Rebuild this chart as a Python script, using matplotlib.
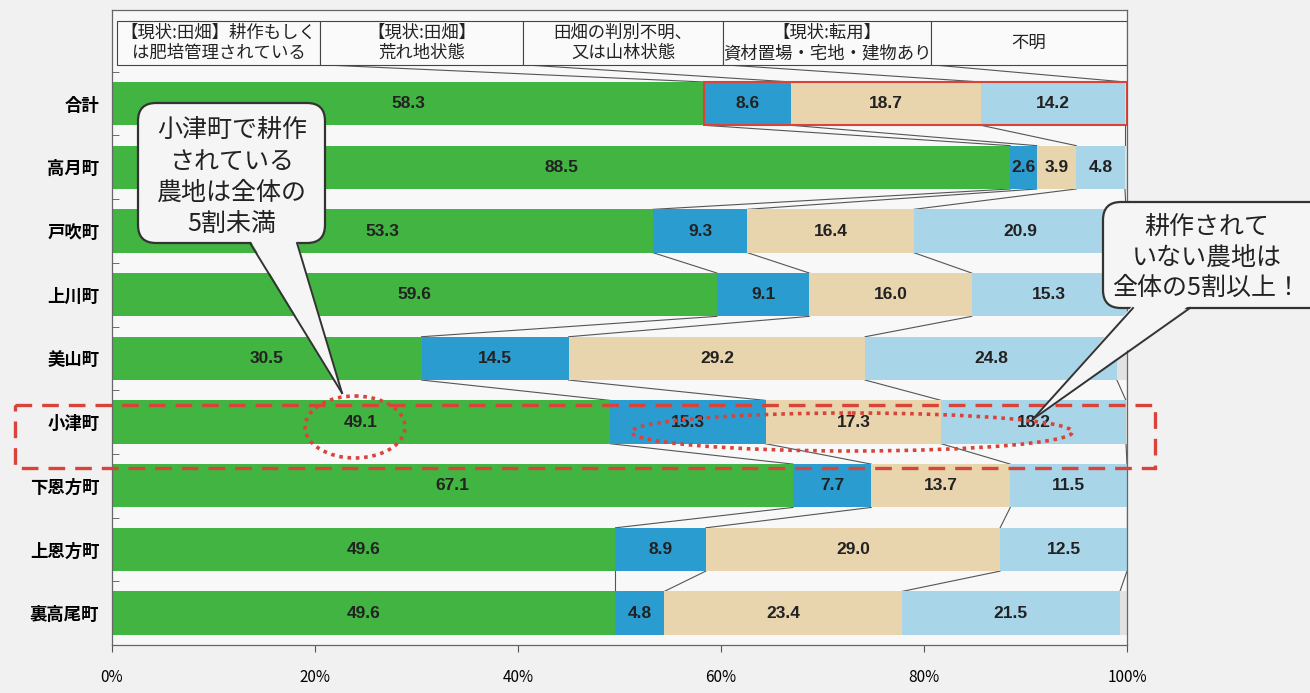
import matplotlib.pyplot as plt
from matplotlib.patches import Rectangle, FancyBboxPatch, Polygon, Ellipse
import numpy as np

plt.rcParams['font.family'] = ['Noto Sans CJK JP', 'DejaVu Sans']

# data (percent)
areas = ['合計', '高月町', '戸吹町', '上川町', '美山町', '小津町', '下恩方町', '上恩方町', '裏高尾町']
cultivated = [58.3, 88.5, 53.3, 59.6, 30.5, 49.1, 67.1, 49.6, 49.6]
wasteland = [8.6, 2.6, 9.3, 9.1, 14.5, 15.3, 7.7, 8.9, 4.8]
forest = [18.7, 3.9, 16.4, 16.0, 29.2, 17.3, 13.7, 29.0, 23.4]
converted = [14.2, 4.8, 20.9, 15.3, 24.8, 18.2, 11.5, 12.5, 21.5]
unknown = [0.2, 0.2, 0.1, 0.0, 1.0, 0.1, 0.0, 0.0, 0.7]

headers = ['【現状:田畑】耕作もしく\nは肥培管理されている',
           '【現状:田畑】\n荒れ地状態',
           '田畑の判別不明、\n又は山林状態',
           '【現状:転用】\n資材置場・宅地・建物あり',
           '不明']
header_edges = [0.5, 20.5, 40.5, 60.2, 80.7, 100]
xticks = [0, 20, 40, 60, 80, 100]
xticklabels = ['0%', '20%', '40%', '60%', '80%', '100%']

series = [cultivated, wasteland, forest, converted, unknown]
colors = ['#41b441', '#2a9cd0', '#e8d5ae', '#a9d5e8', '#e2e2e2']
RED = '#d8443a'

fig = plt.figure(figsize=(13.1, 6.93), dpi=100, facecolor='#f1f1f1')
ax = fig.add_axes([112 / 1310, 1 - 645 / 693, 1015 / 1310, 635 / 693])
ax.set_facecolor('#f8f8f8')

y = np.arange(len(areas))
h = 0.68
left = np.zeros(len(areas))
bounds = []
for k, (vals, c) in enumerate(zip(series, colors)):
    vals = np.array(vals)
    ax.barh(y, vals, left=left, height=h, color=c, zorder=2)
    if k < 4:
        for i, v in enumerate(vals):
            ax.text(left[i] + v / 2, y[i], '%.1f' % v, ha='center', va='center',
                    fontsize=12.5, fontweight='bold', color='#222222',
                    family='Liberation Sans', zorder=3)
    left = left + vals
    bounds.append(left.copy())

# series lines between bars
for b in bounds:
    for i in range(len(areas) - 1):
        ax.plot([b[i], b[i + 1]], [y[i] + h / 2, y[i + 1] - h / 2],
                color='#555555', lw=0.8, zorder=1)

# header table inside the plot area
h_top, h_bot = -1.30, -0.61
for k, txt in enumerate(headers):
    x0, x1 = header_edges[k], header_edges[k + 1]
    ax.add_patch(Rectangle((x0, h_top), x1 - x0, h_bot - h_top, fc='#fafafa',
                           ec='#444444', lw=0.8, zorder=2))
    ax.text((x0 + x1) / 2, (h_top + h_bot) / 2, txt, ha='center', va='center',
            fontsize=12.5, linespacing=1.2, color='#222222', zorder=3)
for k, b in enumerate(bounds):
    ax.plot([header_edges[k + 1], b[0]], [h_bot, y[0] - h / 2],
            color='#555555', lw=0.8, zorder=1)

# red frame around the non-cultivated part of 合計
ax.add_patch(Rectangle((cultivated[0], y[0] - h / 2), bounds[-1][0] - cultivated[0], h,
                       fill=False, ec=RED, lw=1.5, zorder=4))

ax.set_xlim(0, 100)
ax.set_ylim(8.5, -1.47)
ax.set_xticks(xticks, xticklabels)
ax.set_yticks(y, areas)
ax.set_yticks(np.arange(-0.5, 8, 1), minor=True)
ax.tick_params(axis='y', which='major', length=0, pad=9, labelsize=12.5)
ax.tick_params(axis='y', which='minor', direction='in', length=5, color='#555555')
ax.tick_params(axis='x', length=5, pad=12, labelsize=11, color='#555555')
for lab in ax.get_yticklabels():
    lab.set_fontweight('bold')
for sp in ax.spines.values():
    sp.set_color('#666666')
    sp.set_linewidth(0.9)

# overlay in pixel coordinates for the callouts
ov = fig.add_axes([0, 0, 1, 1], zorder=5)
ov.set_xlim(0, 1310)
ov.set_ylim(693, 0)
ov.axis('off')
ov.patch.set_alpha(0)

ov.add_patch(Rectangle((15, 405), 1140, 63, fill=False, ec=RED, lw=2.4,
                       ls=(0, (5, 3))))
ov.add_patch(Ellipse((355, 427), 100, 62, fill=False, ec=RED, lw=2.6, ls=(0, (1, 1.3))))
ov.add_patch(Ellipse((852, 432), 441, 38, fill=False, ec=RED, lw=2.6, ls=(0, (1, 1.3))))


def callout(x, y0, w, hh, base, tip, text, cx, cy, ls):
    ov.add_patch(FancyBboxPatch((x, y0), w, hh, boxstyle='round,pad=0,rounding_size=18',
                                fc='#f5f5f5', ec='#333333', lw=1.6))
    ov.add_patch(Polygon([(base[0], base[2] - 3), tip, (base[1], base[2] - 3)],
                         closed=True, fc='#f5f5f5', ec='none'))
    ov.plot([base[0], tip[0]], [base[2], tip[1]], color='#333333', lw=1.4)
    ov.plot([base[1], tip[0]], [base[2], tip[1]], color='#333333', lw=1.4)
    ov.text(cx, cy, text, ha='center', va='center', fontsize=18, linespacing=ls,
            color='#222222')


callout(138, 103, 187, 140, (250, 297, 243), (342, 393),
        '小津町で耕作\nされている\n農地は全体の\n5割未満', 232, 177, 1.25)
callout(1103, 202, 240, 106, (1133, 1190, 308), (1033, 419),
        '耕作されて\nいない農地は\n全体の5割以上！', 1207, 258, 1.22)

fig.savefig('out.png', dpi=100, facecolor=fig.get_facecolor())
